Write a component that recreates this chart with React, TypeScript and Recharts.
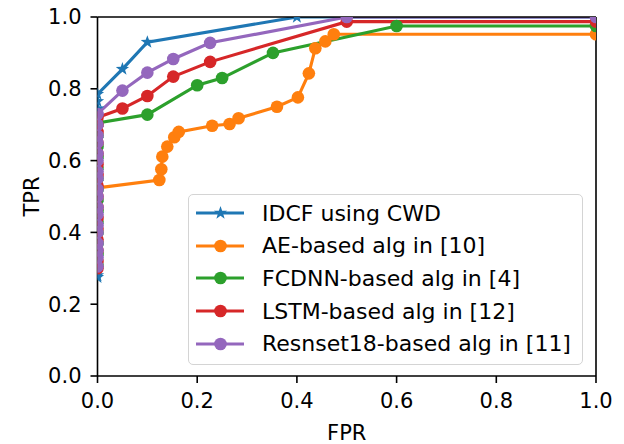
import { LineChart, Line, XAxis, YAxis, ReferenceLine, Legend } from 'recharts'

const SERIES_NAMES = [
  'IDCF using CWD',
  'AE-based alg in [10]',
  'FCDNN-based alg in [4]',
  'LSTM-based alg in [12]',
  'Resnset18-based alg in [11]',
]
const COLORS = ['#1f77b4', '#ff7f0e', '#2ca02c', '#d62728', '#9467bd']
const TICKS = [0, 0.2, 0.4, 0.6, 0.8, 1.0]

// IDCF using CWD
const idcfFpr = [0, 0, 0, 0, 0, 0, 0, 0, 0, 0, 0, 0, 0, 0, 0, 0, 0, 0, 0, 0, 0.05, 0.1, 0.4, 1.0]
const idcfTpr = [0.275, 0.28, 0.3, 0.33, 0.36, 0.39, 0.42, 0.45, 0.48, 0.51, 0.54, 0.57, 0.6, 0.63, 0.66, 0.69, 0.72, 0.745, 0.765, 0.785, 0.855, 0.93, 1.0, 1.0]

// AE-based
const aeFpr = [0, 0.124, 0.128, 0.13, 0.14, 0.154, 0.163, 0.23, 0.265, 0.283, 0.36, 0.402, 0.424, 0.437, 0.457, 0.474, 1.0]
const aeTpr = [0.524, 0.546, 0.576, 0.611, 0.639, 0.665, 0.68, 0.697, 0.702, 0.718, 0.75, 0.776, 0.843, 0.913, 0.932, 0.952, 0.952]

// FCDNN-based
const fcdnnFpr = [0, 0, 0, 0, 0, 0, 0, 0, 0, 0, 0, 0, 0, 0, 0.1, 0.2, 0.25, 0.352, 0.6, 1.0]
const fcdnnTpr = [0.31, 0.34, 0.37, 0.4, 0.43, 0.46, 0.49, 0.52, 0.55, 0.58, 0.61, 0.64, 0.67, 0.705, 0.728, 0.81, 0.83, 0.9, 0.975, 0.975]

// LSTM-based
const lstmFpr = [0, 0, 0, 0, 0, 0, 0, 0, 0, 0, 0, 0, 0, 0, 0, 0, 0.05, 0.1, 0.152, 0.226, 0.5, 1.0]
const lstmTpr = [0.3, 0.32, 0.35, 0.38, 0.41, 0.44, 0.47, 0.5, 0.53, 0.56, 0.59, 0.62, 0.65, 0.68, 0.7, 0.72, 0.745, 0.78, 0.834, 0.875, 0.987, 0.987]

// Resnset18-based
const resFpr = [0, 0, 0, 0, 0, 0, 0, 0, 0, 0, 0, 0, 0, 0, 0, 0, 0, 0, 0.05, 0.1, 0.152, 0.226, 0.5, 1.0]
const resTpr = [0.305, 0.33, 0.35, 0.37, 0.4, 0.42, 0.45, 0.47, 0.5, 0.52, 0.55, 0.57, 0.6, 0.62, 0.65, 0.67, 0.7, 0.73, 0.795, 0.845, 0.883, 0.928, 1.0, 1.0]

const zip = (xs: number[], ys: number[]) => xs.map((x, i) => ({ x, y: ys[i] }))

const SERIES = [
  zip(idcfFpr, idcfTpr),
  zip(aeFpr, aeTpr),
  zip(fcdnnFpr, fcdnnTpr),
  zip(lstmFpr, lstmTpr),
  zip(resFpr, resTpr),
]

const FONT = 'DejaVu Sans'

function starPoints(cx: number, cy: number, r: number) {
  const pts: string[] = []
  for (let i = 0; i < 10; i++) {
    const rad = i % 2 === 0 ? r : r * 0.4
    const a = -Math.PI / 2 + (i * Math.PI) / 5
    pts.push(`${cx + rad * Math.cos(a)},${cy + rad * Math.sin(a)}`)
  }
  return pts.join(' ')
}

function StarDot(props: any) {
  const { cx, cy, index } = props
  if (cx == null || cy == null) return <g key={index} />
  return <polygon key={index} points={starPoints(cx, cy, 7)} fill={COLORS[0]} />
}

function LegendBox() {
  return (
    <div
      style={{
        width: 395,
        height: 171,
        boxSizing: 'border-box',
        border: '1.5px solid #d4d4d4',
        borderRadius: 5,
        background: 'rgba(255,255,255,0.8)',
        paddingTop: 2,
        fontFamily: FONT,
        fontSize: 22,
        color: '#000',
      }}
    >
      {SERIES_NAMES.map((name, i) => (
        <div key={name} style={{ display: 'flex', alignItems: 'center', height: 32.6 }}>
          <svg width={73} height={32} style={{ flex: 'none' }}>
            <line x1={7} x2={55} y1={16} y2={16} stroke={COLORS[i]} strokeWidth={3.1} />
            {i === 0 ? (
              <polygon points={starPoints(31.5, 16, 7)} fill={COLORS[i]} />
            ) : (
              <circle cx={31.5} cy={16} r={6.3} fill={COLORS[i]} />
            )}
          </svg>
          <span style={{ whiteSpace: 'nowrap' }}>{name}</span>
        </div>
      ))}
    </div>
  )
}

export default function App() {
  const tickStyle = { fill: '#000', fontSize: 21, fontFamily: FONT }
  return (
    <div style={{ position: 'absolute', left: 0, top: 0, width: 624, height: 444, background: '#fff' }}>
      <LineChart width={624} height={444} margin={{ top: 17, right: 28, bottom: 0, left: 0 }}>
        <XAxis
          type="number"
          dataKey="x"
          domain={[0, 1]}
          ticks={TICKS}
          allowDataOverflow
          tickFormatter={(v) => Number(v).toFixed(1)}
          tick={tickStyle}
          tickSize={7}
          tickMargin={10}
          height={68}
          axisLine={{ stroke: '#000', strokeWidth: 1.6 }}
          tickLine={{ stroke: '#000', strokeWidth: 1.6 }}
          label={{ value: 'FPR', position: 'insideBottom', offset: 4, fill: '#000', fontSize: 21, fontFamily: FONT }}
        />
        <YAxis
          type="number"
          dataKey="y"
          domain={[0, 1]}
          ticks={TICKS}
          allowDataOverflow
          tickFormatter={(v) => Number(v).toFixed(1)}
          tick={tickStyle}
          tickSize={7}
          tickMargin={9}
          width={97.5}
          axisLine={{ stroke: '#000', strokeWidth: 1.6 }}
          tickLine={{ stroke: '#000', strokeWidth: 1.6 }}
          label={{
            value: 'TPR',
            angle: -90,
            position: 'insideLeft',
            offset: 32,
            fill: '#000',
            fontSize: 21,
            fontFamily: FONT,
            style: { textAnchor: 'middle' },
          }}
        />
        {SERIES.map((data, i) => (
          <Line
            key={SERIES_NAMES[i]}
            data={data}
            dataKey="y"
            name={SERIES_NAMES[i]}
            type="linear"
            stroke={COLORS[i]}
            strokeWidth={3.1}
            dot={i === 0 ? StarDot : { r: 6.3, fill: COLORS[i], stroke: COLORS[i], strokeWidth: 0 }}
            activeDot={false}
            isAnimationActive={false}
          />
        ))}
        <ReferenceLine y={1} stroke="#000" strokeWidth={1.6} />
        <ReferenceLine x={1} stroke="#000" strokeWidth={1.6} />
        <Legend
          layout="vertical"
          align="center"
          verticalAlign="middle"
          wrapperStyle={{ left: 188, top: 194, width: 395 }}
          content={() => <LegendBox />}
        />
      </LineChart>
    </div>
  )
}
